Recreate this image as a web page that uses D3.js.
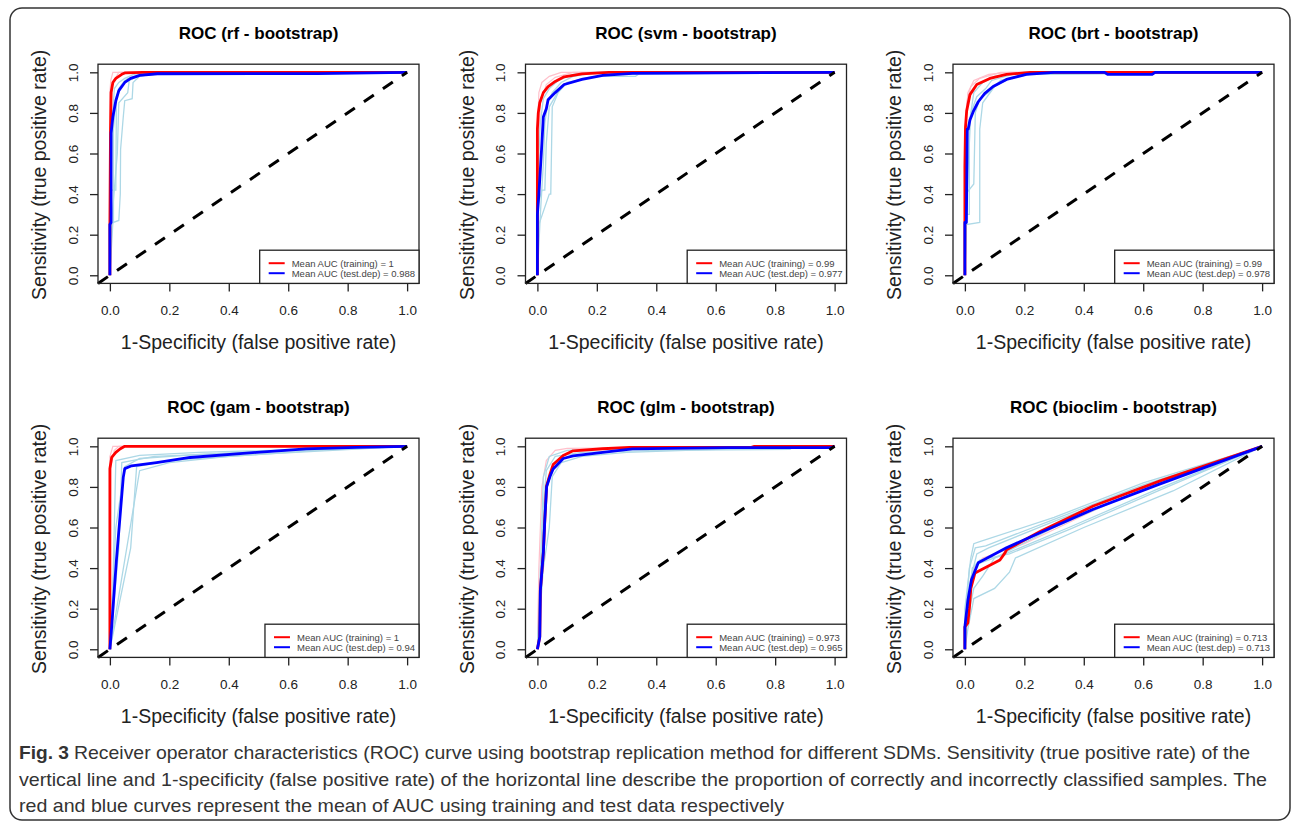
<!DOCTYPE html>
<html>
<head>
<meta charset="utf-8">
<script src="https://cdn.jsdelivr.net/npm/d3@7"></script>
<style>
  body { margin: 0; background: #fff; }
  svg { display: block; }
  text { font-family: "Liberation Sans", Arial, sans-serif; }
</style>
</head>
<body>
<svg width="1292" height="827"></svg>
<script>
// ---- data: [fpr, tpr] pairs ----
const models = ["rf", "svm", "brt", "gam", "glm", "bioclim"];
const aucTrain = ["1", "0.99", "0.99", "1", "0.973", "0.713"];
const aucTest = ["0.988", "0.977", "0.978", "0.94", "0.965", "0.713"];
const ticks = [0, 0.2, 0.4, 0.6, 0.8, 1];

const rfTrain = [[0,0],[0,0.25],[0.002,0.7],[0.004,0.9],[0.01,0.95],[0.02,0.97],[0.03,0.98],[0.04,0.99],[0.05,0.997],[0.11,1],[0.7,1],[1,1]];
const rfTest = [[0,0],[0,0.25],[0.004,0.26],[0.004,0.7],[0.01,0.78],[0.015,0.82],[0.02,0.86],[0.03,0.91],[0.05,0.95],[0.07,0.97],[0.1,0.985],[0.16,0.993],[0.7,0.994],[1,1]];
const rfRepTest = [
  [[0,0],[0,0.25],[0.012,0.26],[0.012,0.72],[0.02,0.86],[0.03,0.92],[0.05,0.96],[0.09,0.98],[0.15,0.99],[0.3,1],[1,1]],
  [[0,0],[0.01,0.26],[0.03,0.27],[0.035,0.4],[0.036,0.62],[0.045,0.78],[0.05,0.86],[0.075,0.87],[0.078,0.95],[0.1,0.98],[0.16,1],[1,1]],
  [[0,0],[0,0.42],[0.02,0.42],[0.022,0.88],[0.04,0.94],[0.06,0.97],[0.12,0.99],[0.2,1],[1,1]],
  [[0,0],[0.005,0.5],[0.01,0.8],[0.015,0.92],[0.03,0.95],[0.05,0.97],[0.08,0.99],[0.12,1],[1,1]],
  [[0,0],[0.008,0.3],[0.025,0.6],[0.03,0.85],[0.06,0.9],[0.065,0.96],[0.11,0.99],[0.14,1],[1,1]]
];
const rfRepTrain = [
  [[0,0],[0,0.9],[0.003,0.96],[0.01,1],[1,1]],
  [[0,0],[0.002,0.8],[0.01,0.95],[0.03,1],[1,1]]
];

const svmTrain = [[0,0],[0,0.3],[0,0.72],[0.003,0.8],[0.008,0.85],[0.02,0.9],[0.036,0.93],[0.06,0.955],[0.09,0.978],[0.15,0.992],[0.24,1],[1,1]];
const svmTest = [[0,0],[0,0.3],[0.005,0.4],[0.014,0.62],[0.02,0.78],[0.03,0.82],[0.036,0.865],[0.06,0.9],[0.09,0.94],[0.15,0.965],[0.22,0.985],[0.32,0.995],[1,1]];
const svmRepTest = [
  [[0,0],[0.005,0.25],[0.04,0.4],[0.045,0.4],[0.05,0.83],[0.07,0.9],[0.1,0.95],[0.2,0.98],[0.33,0.98],[0.35,1],[1,1]],
  [[0,0],[0.01,0.3],[0.02,0.55],[0.025,0.75],[0.035,0.85],[0.05,0.9],[0.08,0.95],[0.12,0.98],[0.2,1],[1,1]],
  [[0,0],[0.003,0.35],[0.015,0.42],[0.025,0.42],[0.03,0.65],[0.04,0.83],[0.06,0.88],[0.08,0.93],[0.15,0.97],[0.25,0.99],[1,1]],
  [[0,0],[0.002,0.5],[0.01,0.75],[0.02,0.87],[0.04,0.92],[0.07,0.96],[0.12,0.99],[0.18,1],[1,1]]
];
const svmRepTrain = [
  [[0,0],[0,0.7],[0.005,0.9],[0.015,0.95],[0.04,0.98],[0.08,1],[1,1]],
  [[0,0],[0.003,0.6],[0.01,0.85],[0.03,0.94],[0.06,0.975],[0.12,1],[1,1]]
];

const brtTrain = [[0,0],[0,0.26],[0,0.54],[0.002,0.73],[0.006,0.81],[0.017,0.89],[0.04,0.94],[0.084,0.97],[0.14,0.99],[0.22,1],[1,1]];
const brtTest = [[0,0],[0,0.26],[0.005,0.26],[0.008,0.72],[0.011,0.72],[0.017,0.765],[0.028,0.806],[0.045,0.855],[0.067,0.896],[0.095,0.93],[0.14,0.965],[0.207,0.99],[0.3,1],[0.47,1],[0.48,0.99],[0.63,0.99],[0.64,1],[1,1]];
const brtRepTest = [
  [[0,0],[0.005,0.25],[0.05,0.26],[0.05,0.72],[0.06,0.85],[0.1,0.93],[0.15,0.97],[0.25,1],[1,1]],
  [[0,0],[0,0.3],[0.015,0.3],[0.015,0.75],[0.03,0.9],[0.06,0.95],[0.1,0.98],[0.2,1],[1,1]],
  [[0,0],[0.01,0.5],[0.02,0.8],[0.04,0.88],[0.07,0.92],[0.09,0.96],[0.16,0.99],[1,1]],
  [[0,0],[0.003,0.4],[0.03,0.45],[0.035,0.8],[0.05,0.87],[0.08,0.9],[0.12,0.96],[0.2,0.99],[1,1]]
];
const brtRepTrain = [
  [[0,0],[0,0.7],[0.01,0.9],[0.03,0.96],[0.08,0.99],[0.15,1],[1,1]],
  [[0,0],[0.002,0.6],[0.006,0.85],[0.02,0.93],[0.05,0.97],[0.12,1],[1,1]]
];

const gamTrain = [[0,0],[0,0.89],[0.006,0.945],[0.02,0.97],[0.034,0.987],[0.05,1],[1,1]];
const gamTest = [[0,0],[0.006,0.11],[0.022,0.44],[0.045,0.847],[0.05,0.89],[0.073,0.904],[0.157,0.92],[0.27,0.945],[0.494,0.97],[0.66,0.987],[0.83,0.995],[1,1]];
const gamRepTest = [
  [[0,0],[0.02,0.6],[0.05,0.9],[0.1,0.94],[0.3,0.96],[0.6,0.98],[1,1]],
  [[0,0],[0.1,0.88],[0.2,0.92],[0.4,0.95],[0.7,0.98],[1,1]],
  [[0,0],[0.01,0.3],[0.02,0.93],[0.1,0.955],[0.3,0.97],[1,1]],
  [[0,0],[0.07,0.5],[0.09,0.9],[0.2,0.93],[0.5,0.96],[1,1]],
  [[0,0],[0.03,0.5],[0.04,0.92],[0.15,0.95],[0.4,0.965],[0.8,0.99],[1,1]]
];
const gamRepTrain = [
  [[0,0],[0,0.95],[0.01,1],[1,1]],
  [[0,0],[0.003,0.9],[0.015,0.98],[0.03,1],[1,1]]
];

const glmTrain = [[0,0],[0.008,0.06],[0.01,0.29],[0.02,0.475],[0.025,0.64],[0.031,0.805],[0.042,0.86],[0.053,0.91],[0.087,0.955],[0.12,0.978],[0.22,0.988],[0.31,0.995],[0.72,0.995],[0.73,1],[1,1]];
const glmTest = [[0,0],[0.008,0.06],[0.01,0.29],[0.02,0.475],[0.025,0.64],[0.031,0.8],[0.042,0.85],[0.053,0.888],[0.087,0.94],[0.12,0.953],[0.22,0.97],[0.32,0.987],[0.64,0.994],[0.99,0.994],[1,1]];
const glmRepTest = [
  [[0,0],[0.01,0.3],[0.02,0.7],[0.03,0.88],[0.06,0.95],[0.15,0.97],[0.4,0.98],[0.85,0.985],[0.86,1],[1,1]],
  [[0,0],[0.005,0.2],[0.015,0.6],[0.02,0.85],[0.04,0.95],[0.1,0.98],[0.3,0.99],[1,1]],
  [[0,0],[0.02,0.4],[0.04,0.6],[0.05,0.85],[0.08,0.92],[0.15,0.95],[0.3,0.97],[0.6,0.985],[1,1]]
];
const glmRepTrain = [
  [[0,0],[0.005,0.4],[0.015,0.8],[0.03,0.93],[0.06,0.98],[0.1,0.99],[1,1]]
];

const bioTrain = [[0,0],[0,0.11],[0.01,0.13],[0.015,0.2],[0.02,0.3],[0.034,0.376],[0.118,0.44],[0.135,0.475],[0.14,0.49],[0.253,0.58],[0.432,0.706],[0.657,0.83],[1,1]];
const bioTest = [[0,0],[0,0.11],[0.01,0.24],[0.022,0.343],[0.045,0.426],[0.14,0.5],[0.253,0.574],[0.432,0.69],[0.657,0.815],[1,1]];
const bioRepTest = [
  [[0,0],[0,0.2],[0.02,0.45],[0.03,0.52],[0.05,0.53],[0.3,0.65],[0.6,0.82],[1,1]],
  [[0,0],[0.01,0.1],[0.03,0.25],[0.1,0.3],[0.15,0.38],[0.17,0.45],[0.4,0.6],[0.7,0.78],[1,1]],
  [[0,0],[0.005,0.15],[0.02,0.35],[0.04,0.47],[0.08,0.5],[0.3,0.63],[0.6,0.8],[1,1]],
  [[0,0],[0.01,0.2],[0.025,0.4],[0.05,0.44],[0.15,0.47],[0.35,0.59],[0.65,0.78],[1,1]],
  [[0,0],[0.005,0.12],[0.03,0.3],[0.06,0.36],[0.1,0.45],[0.3,0.6],[0.6,0.79],[1,1]],
  [[0,0],[0.004,0.18],[0.015,0.4],[0.035,0.5],[0.07,0.51],[0.3,0.64],[0.6,0.81],[1,1]],
  [[0,0],[0.008,0.15],[0.02,0.3],[0.04,0.42],[0.12,0.46],[0.35,0.6],[0.65,0.79],[1,1]]
];
const bioRepTrain = [
  [[0,0],[0.01,0.2],[0.03,0.4],[0.06,0.45],[0.2,0.52],[0.5,0.73],[1,1]]
];

const trainCurves = [rfTrain, svmTrain, brtTrain, gamTrain, glmTrain, bioTrain];
const testCurves = [rfTest, svmTest, brtTest, gamTest, glmTest, bioTest];
const repTest = [rfRepTest, svmRepTest, brtRepTest, gamRepTest, glmRepTest, bioRepTest];
const repTrain = [rfRepTrain, svmRepTrain, brtRepTrain, gamRepTrain, glmRepTrain, bioRepTrain];

const captionLines = [
  "Receiver operator characteristics (ROC) curve using bootstrap replication method for different SDMs. Sensitivity (true positive rate) of the",
  "vertical line and 1-specificity (false positive rate) of the horizontal line describe the proportion of correctly and incorrectly classified samples. The",
  "red and blue curves represent the mean of AUC using training and test data respectively"
];

// ---- layout ----
const svg = d3.select("svg");
const plotW = 321, plotH = 219.2, colStep = 427.5, rowStep = 374;

svg.append("rect")
    .attr("x", 10).attr("y", 8)
    .attr("width", 1280).attr("height", 812)
    .attr("rx", 12)
    .attr("fill", "none")
    .attr("stroke", "#333")
    .attr("stroke-width", 1.5);

models.forEach(function (m, i) {
  const left = 98 + (i % 3) * colStep,
      top = 64.2 + Math.floor(i / 3) * rowStep;

  const x = d3.scaleLinear().domain([-0.04, 1.04]).range([left, left + plotW]),
      y = d3.scaleLinear().domain([-0.04, 1.04]).range([top + plotH, top]);

  const line = d3.line().x(d => x(d[0])).y(d => y(d[1]));
  const g = svg.append("g");

  // title
  g.append("text")
      .attr("x", left + plotW / 2).attr("y", top - 25)
      .attr("text-anchor", "middle")
      .attr("font-size", 17).attr("font-weight", "bold")
      .text("ROC (" + m + " - bootstrap)");

  // replicate curves
  g.selectAll(".reptr").data(repTrain[i]).enter().append("path")
      .attr("d", line).attr("fill", "none")
      .attr("stroke", "#ffc0cb").attr("stroke-width", 1.2);
  g.selectAll(".repte").data(repTest[i]).enter().append("path")
      .attr("d", line).attr("fill", "none")
      .attr("stroke", "#add8e6").attr("stroke-width", 1.3);

  // mean curves
  g.append("path").attr("d", line(trainCurves[i]))
      .attr("fill", "none").attr("stroke", "#ff0000")
      .attr("stroke-width", 2.8).attr("stroke-linejoin", "round");
  g.append("path").attr("d", line(testCurves[i]))
      .attr("fill", "none").attr("stroke", "#0000ff")
      .attr("stroke-width", 2.8).attr("stroke-linejoin", "round");

  // diagonal
  g.append("line")
      .attr("x1", x(-0.04)).attr("y1", y(-0.04))
      .attr("x2", x(1)).attr("y2", y(1))
      .attr("stroke", "#000").attr("stroke-width", 3)
      .attr("stroke-dasharray", "12,11");

  // axes
  const gx = g.append("g")
      .attr("transform", "translate(0," + (top + plotH) + ")")
      .call(d3.axisBottom(x).tickValues(ticks).tickSize(8).tickPadding(14).tickFormat(d3.format(".1f")));
  const gy = g.append("g")
      .attr("transform", "translate(" + left + ",0)")
      .call(d3.axisLeft(y).tickValues(ticks).tickSize(8).tickFormat(d3.format(".1f")));
  [gx, gy].forEach(a => {
    a.select(".domain").remove();
    a.selectAll("line").attr("stroke", "#222").attr("stroke-width", 1.3);
    a.selectAll("text").attr("font-size", 13.5).attr("fill", "#222")
        .attr("font-family", '"Liberation Sans", Arial, sans-serif');
  });
  gy.selectAll("text")
      .attr("x", null).attr("dy", null)
      .attr("text-anchor", "middle")
      .attr("transform", "translate(-20.3,0) rotate(-90)");

  // box
  g.append("rect")
      .attr("x", left).attr("y", top)
      .attr("width", plotW).attr("height", plotH)
      .attr("fill", "none").attr("stroke", "#222").attr("stroke-width", 1.3);

  // axis titles
  g.append("text")
      .attr("x", left + plotW / 2).attr("y", top + plotH + 65.6)
      .attr("text-anchor", "middle").attr("font-size", 19.5).attr("fill", "#222")
      .text("1-Specificity (false positive rate)");
  g.append("text")
      .attr("transform", "translate(" + (left - 52) + "," + (top + plotH / 2 + 1) + ") rotate(-90)")
      .attr("text-anchor", "middle").attr("font-size", 19.5).attr("fill", "#222")
      .text("Sensitivity (true positive rate)");

  // legend
  const lg = g.append("g");
  const labels = ["Mean AUC (training) = " + aucTrain[i], "Mean AUC (test.dep) = " + aucTest[i]];
  const colors = ["#ff0000", "#0000ff"];
  const texts = labels.map((t, k) => lg.append("text")
      .attr("y", top + plotH - 33.2 + 16.5 + k * 10)
      .attr("font-size", 9.5).attr("fill", "#444").text(t));
  const tw = d3.max(texts, t => t.node().getComputedTextLength());
  const boxW = tw + 36, lx = left + plotW - boxW;
  lg.insert("rect", "text")
      .attr("x", lx).attr("y", top + plotH - 33.2)
      .attr("width", boxW).attr("height", 33.2)
      .attr("fill", "#fff").attr("stroke", "#222").attr("stroke-width", 1.3);
  texts.forEach(t => t.attr("x", lx + 32));
  colors.forEach((c, k) => lg.append("line")
      .attr("x1", lx + 9).attr("x2", lx + 25)
      .attr("y1", top + plotH - 33.2 + 13 + k * 10).attr("y2", top + plotH - 33.2 + 13 + k * 10)
      .attr("stroke", c).attr("stroke-width", 2));
});

// caption
const capFont = '"Liberation Sans Narrow", "DejaVu Sans Condensed", "Open Sans", sans-serif';
svg.append("text")
    .attr("x", 19).attr("y", 759)
    .attr("font-family", capFont).attr("font-size", 19).attr("font-weight", "bold")
    .attr("fill", "#333")
    .attr("textLength", 50).attr("lengthAdjust", "spacingAndGlyphs")
    .text("Fig. 3");
const capStart = [74, 19, 19], capEnd = [1250, 1267, 784];
captionLines.forEach(function (t, k) {
  svg.append("text")
      .attr("x", capStart[k]).attr("y", 759 + k * 26.7)
      .attr("font-family", capFont).attr("font-size", 19)
      .attr("fill", "#333")
      .attr("textLength", capEnd[k] - capStart[k]).attr("lengthAdjust", "spacingAndGlyphs")
      .text(t);
});
</script>
</body>
</html>
